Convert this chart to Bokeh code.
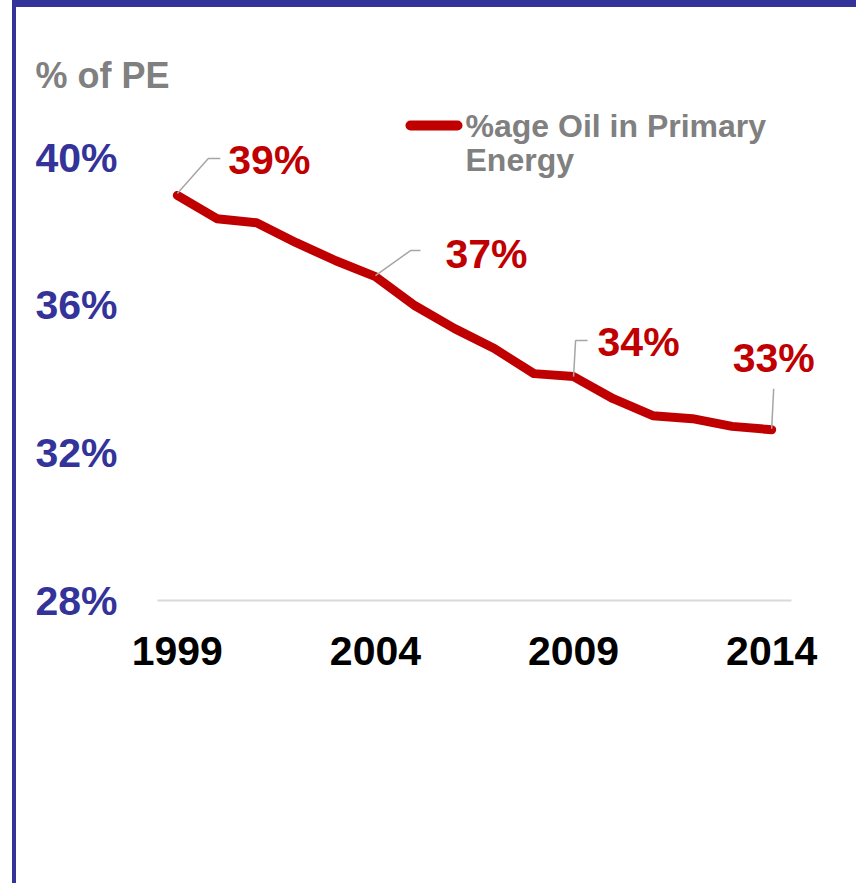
from bokeh.plotting import figure
from bokeh.models import (ColumnDataSource, Range1d, FixedTicker, LabelSet, Label,
                          BoxAnnotation, Title, Div, Spacer)
from bokeh.layouts import row, column
from bokeh.core.properties import value
from bokeh.embed import file_html
from bokeh.resources import INLINE

# ---- data ----
years = [1999, 2000, 2001, 2002, 2003, 2004, 2005, 2006, 2007, 2008,
         2009, 2010, 2011, 2012, 2013, 2014]
oil_share = [38.98, 38.35, 38.24, 37.70, 37.21, 36.78, 35.99, 35.37, 34.83, 34.15,
             34.07, 33.47, 33.01, 32.93, 32.72, 32.63]
x_ticks = [1999, 2004, 2009, 2014]
y_ticks = [28, 32, 36, 40]
y_tick_labels = ["28%", "32%", "36%", "40%"]
label_years = [1999, 2004, 2009, 2014]
series_name = "%age Oil in Primary"
series_name2 = "Energy"
y_title = "% of PE"

RED = "#C00000"
BLUE = "#333399"
GREY = "#808080"
FONT = "Liberation Sans"

PAGE_W, PAGE_H = 856, 883
BAR_X, BAR_W, BAR_H = 12, 4, 7
W = PAGE_W - BAR_X - BAR_W          # figure width
H = PAGE_H - BAR_H                  # figure height
OX, OY = BAR_X + BAR_W, BAR_H       # figure origin on the page
FRAME_L, FRAME_T, FRAME_B = 157, 102, 600   # page coords
ML = FRAME_L - OX
MT = FRAME_T - OY
MB = H - (FRAME_B - OY)
MR = 0

x0, xend_axis = 1998.5, 2014.5
ppx = 634 / (xend_axis - x0)
x1 = x0 + (W - ML - MR) / ppx
y0, y1 = 28, 41.5
ppy = (H - MT - MB) / (y1 - y0)

p = figure(width=W, height=H, output_backend="svg", toolbar_location=None,
           x_range=Range1d(x0, x1), y_range=Range1d(y0, y1),
           min_border_left=ML, min_border_right=MR, min_border_top=MT,
           min_border_bottom=MB, margin=0)
p.outline_line_color = None
p.xgrid.visible = False
p.ygrid.visible = False
p.background_fill_color = "white"
p.border_fill_color = "white"

# axes
p.xaxis.ticker = FixedTicker(ticks=x_ticks)
p.xaxis.bounds = (x0, xend_axis)
p.xaxis.major_label_overrides = {t: str(t) for t in x_ticks}
p.xaxis.axis_line_color = "#D9D9D9"
p.xaxis.axis_line_width = 2
p.xaxis.major_tick_line_color = None
p.xaxis.minor_tick_line_color = None
p.xaxis.major_tick_out = 0
p.xaxis.major_tick_in = 0
p.xaxis.major_label_standoff = 36
p.xaxis.major_label_text_font = FONT
p.xaxis.major_label_text_font_style = "bold"
p.xaxis.major_label_text_font_size = "41px"
p.xaxis.major_label_text_color = "black"

p.yaxis.ticker = FixedTicker(ticks=y_ticks)
p.yaxis.major_label_overrides = dict(zip(y_ticks, y_tick_labels))
p.yaxis.axis_line_color = None
p.yaxis.major_tick_line_color = None
p.yaxis.minor_tick_line_color = None
p.yaxis.major_tick_out = 0
p.yaxis.major_tick_in = 0
p.yaxis.major_label_standoff = 40
p.yaxis.major_label_text_font = FONT
p.yaxis.major_label_text_font_style = "bold"
p.yaxis.major_label_text_font_size = "41px"
p.yaxis.major_label_text_color = BLUE

# main line
p.line(years, oil_share, line_width=9, line_color=RED, line_join="round", line_cap="round")

# leader lines (pixel offsets from data points)
leader_offsets = [[(0, -2), (31, -37), (43, -37)],
                  [(0, -1), (35, -26), (45, -26)],
                  [(0, 0), (2, -36), (14, -36)],
                  [(0, -1), (2, -41)]]
label_offsets = [(92, 35), (111, 23), (65, 35), (2, 72)]
xs, ys = [], []
lx, ly, ltxt, lxo, lyo = [], [], [], [], []
for yr, offs, lo in zip(label_years, leader_offsets, label_offsets):
    v = oil_share[years.index(yr)]
    xs.append([yr + dx / ppx for dx, dy in offs])
    ys.append([v - dy / ppy for dx, dy in offs])
    lx.append(yr)
    ly.append(v)
    ltxt.append(f"{round(v)}%")
    lxo.append(lo[0])
    lyo.append(lo[1])
p.multi_line(xs, ys, line_color="#A6A6A6", line_width=1.5)

src = ColumnDataSource(dict(x=lx, y=ly, t=ltxt, xo=lxo, yo=lyo))
p.add_layout(LabelSet(x="x", y="y", text="t", source=src, x_offset="xo", y_offset="yo",
                      text_align="center", text_baseline="middle", text_color=RED,
                      text_font=value(FONT), text_font_style="bold",
                      text_font_size="41px"))

# y title (above panel)
p.add_layout(Title(text=y_title, align="left", offset=35 - FRAME_L, standoff=13,
                   text_color=GREY, text_font=FONT, text_font_style="bold",
                   text_font_size="36px"), "above")

# legend
p.add_layout(BoxAnnotation(left=405 - FRAME_L, right=462 - FRAME_L, top=FRAME_B - 120,
                           bottom=FRAME_B - 130, left_units="screen", right_units="screen",
                           top_units="screen", bottom_units="screen",
                           fill_color=RED, fill_alpha=1, line_color=None, border_radius=5))
for txt, cy in [(series_name, 125), (series_name2, 159)]:
    p.add_layout(Label(x=465 - FRAME_L, y=FRAME_B - cy, x_units="screen", y_units="screen",
                       text=txt, text_align="left", text_baseline="middle",
                       text_color=GREY, text_font=FONT, text_font_style="bold",
                       text_font_size="32px"))

# page border bars
left_bar = Div(text="", width=BAR_W, height=PAGE_H, margin=0,
               styles={"background-color": BLUE})
top_bar = Div(text="", width=W, height=BAR_H, margin=0,
              styles={"background-color": BLUE})
layout = row(Spacer(width=BAR_X, height=PAGE_H, margin=0), left_bar,
             column(top_bar, p, spacing=0, margin=0), spacing=0, margin=0)

open("out.html", "w").write(file_html(layout, INLINE))
